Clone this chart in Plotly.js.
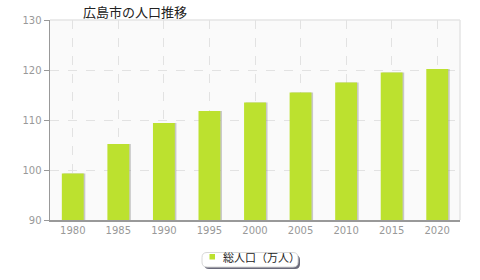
<!DOCTYPE html>
<html><head><meta charset="utf-8">
<script src="https://cdn.plot.ly/plotly-3.0.1.min.js"></script>
<style>body{margin:0;padding:0;background:#fff}#c{width:480px;height:280px}</style>
</head><body><div id="c"></div>
<script>
var years = ['1980','1985','1990','1995','2000','2005','2010','2015','2020'];
var population = [99.3, 105.2, 109.4, 111.8, 113.5, 115.5, 117.5, 119.5, 120.2];
var seriesName = '総人口（万人）';
var chartTitle = '広島市の人口推移';

var barColor = '#bce12f';
var barW = 0.48;
var shadow = {
  type:'bar', x:years, y:population, width:barW, offset:-barW/2+0.035,
  marker:{color:'rgba(140,140,140,0.45)', line:{width:0}},
  hoverinfo:'skip', showlegend:false
};
var main = {
  type:'bar', x:years, y:population, width:barW, offset:-barW/2,
  marker:{color:barColor, line:{width:0}}, name:seriesName, showlegend:false
};

// pixel -> paper helpers
var L=50, R=460, T=20, B=220;
function px(x){return (x-L)/(R-L);} function py(y){return (B-y)/(B-T);}
function rr(x0,y0,x1,y1,r){
  return 'M'+px(x0+r)+','+py(y0)+' L'+px(x1-r)+','+py(y0)+' Q'+px(x1)+','+py(y0)+' '+px(x1)+','+py(y0+r)+
   ' L'+px(x1)+','+py(y1-r)+' Q'+px(x1)+','+py(y1)+' '+px(x1-r)+','+py(y1)+
   ' L'+px(x0+r)+','+py(y1)+' Q'+px(x0)+','+py(y1)+' '+px(x0)+','+py(y1-r)+
   ' L'+px(x0)+','+py(y0+r)+' Q'+px(x0)+','+py(y0)+' '+px(x0+r)+','+py(y0)+' Z';
}

var layout = {
  width:480, height:280,
  margin:{l:L, r:480-R, t:T, b:280-B},
  paper_bgcolor:'#ffffff', plot_bgcolor:'#fafafa',
  barmode:'overlay',
  title:{text:chartTitle, x:135/480, xanchor:'center', y:1-12/280, yanchor:'middle',
         font:{family:'Noto Sans CJK JP, sans-serif', size:13, color:'#222'}},
  xaxis:{type:'category', range:[-0.5,8.5], showgrid:true, gridcolor:'#e2e2e2', griddash:'dash',
         gridwidth:1, showline:true, linecolor:'#999', linewidth:1.5, ticks:'',
         tickfont:{family:'DejaVu Sans, sans-serif', size:10, color:'#999'}, fixedrange:true, zeroline:false},
  yaxis:{range:[90,130], dtick:10, showgrid:true, gridcolor:'#e2e2e2', griddash:'dash', gridwidth:1,
         showline:true, linecolor:'#999', linewidth:1.5, ticks:'outside', ticklen:5, tickcolor:'#999',
         tickfont:{family:'DejaVu Sans, sans-serif', size:10, color:'#999'}, zeroline:false, fixedrange:true},
  showlegend:false,
  shapes:[
    {type:'line', xref:'paper', yref:'paper', x0:0, x1:1, y0:1, y1:1, line:{color:'#e4e4e4', width:1.5}, layer:'below'},
    {type:'line', xref:'paper', yref:'paper', x0:1, x1:1, y0:0, y1:1, line:{color:'#e4e4e4', width:1.5}, layer:'below'},
    {type:'path', xref:'paper', yref:'paper', path:rr(204,255,300,269,5), fillcolor:'#6a6a7a', line:{width:0}},
    {type:'path', xref:'paper', yref:'paper', path:rr(202,252.5,298,267,5), fillcolor:'#ffffff', line:{color:'#d8d8d8', width:1}},
    {type:'rect', xref:'paper', yref:'paper', x0:px(209.5), x1:px(215), y0:py(254), y1:py(259.5), fillcolor:barColor, line:{width:0}}
  ],
  annotations:[
    {xref:'paper', yref:'paper', x:px(221), y:py(257), xanchor:'left', yanchor:'middle', showarrow:false,
     text:seriesName, font:{family:'Noto Sans CJK JP, sans-serif', size:11, color:'#222'}}
  ]
};
Plotly.newPlot('c',[shadow, main],layout,{displayModeBar:false, staticPlot:true});
</script></body></html>
